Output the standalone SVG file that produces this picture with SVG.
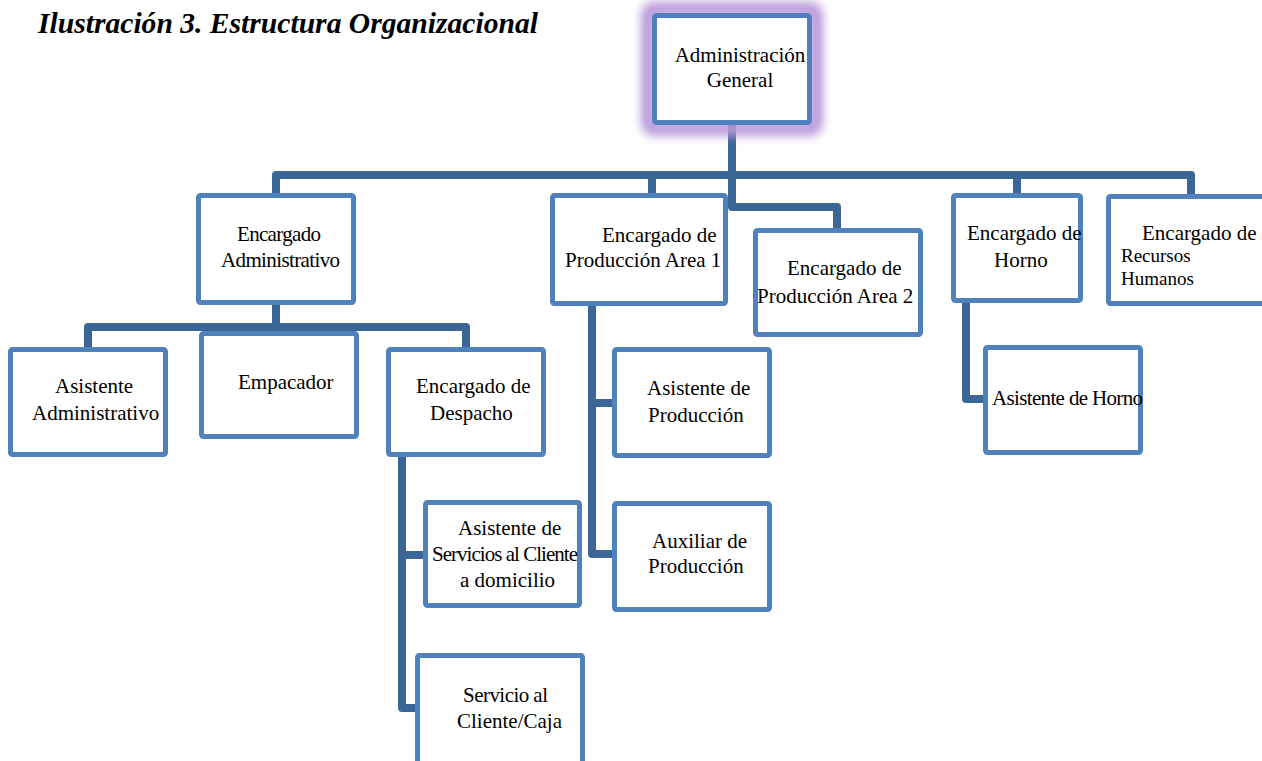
<svg xmlns="http://www.w3.org/2000/svg" width="1262" height="761" viewBox="0 0 1262 761">
<defs>
<style>
.box{fill:#fff;stroke:#4F81BD;stroke-width:5}
.t{font-family:"Liberation Serif","Times New Roman",serif;font-size:21px;fill:#000}
.c{fill:none;stroke:#3B6797;stroke-width:8;stroke-linejoin:round}
.title{font-family:"Liberation Serif","Times New Roman",serif;font-size:29.6px;font-weight:bold;font-style:italic;fill:#000}
</style>
<filter id="glow" x="-30%" y="-30%" width="160%" height="160%"><feGaussianBlur stdDeviation="5"/></filter>
</defs>
<rect width="1262" height="761" fill="#fff"/>
<text class="title" x="38" y="33">Ilustración 3. Estructura Organizacional</text>
<g id="connectors">
<path class="c" d="M732,125 V207 H837 V228"/>
<path class="c" d="M276,193 V175 H1191 V194"/>
<path class="c" d="M652,175 V193"/>
<path class="c" d="M1017,175 V193"/>
<path class="c" d="M276,305 V327"/>
<path class="c" d="M88,347 V327 H466 V347"/>
<path class="c" d="M402,457 V708 H417"/>
<path class="c" d="M402,555 H423"/>
<path class="c" d="M592,306 V554 H612"/>
<path class="c" d="M592,403 H612"/>
<path class="c" d="M966,303 V399 H983"/>
</g>
<g id="n-admin-general">
<rect x="648" y="9" width="168" height="120" rx="6" fill="none" stroke="#B99ADB" stroke-width="14" filter="url(#glow)"/>
<rect class="box" x="654.5" y="15.5" width="155" height="107" rx="2"/>
<text class="t" x="740" y="62" text-anchor="middle">Administración</text>
<text class="t" x="740" y="87" text-anchor="middle">General</text>
</g>
<g id="n-enc-admin">
<rect class="box" x="198.5" y="195.5" width="155" height="107" rx="2"/>
<text class="t" x="237" y="241" textLength="84" lengthAdjust="spacing">Encargado</text>
<text class="t" x="221" y="267" textLength="119" lengthAdjust="spacing">Administrativo</text>
</g>
<g id="n-prod1">
<rect class="box" x="552.5" y="195.5" width="173" height="108" rx="2"/>
<text class="t" x="602" y="242">Encargado de</text>
<text class="t" x="565" y="267">Producción Area 1</text>
</g>
<g id="n-prod2">
<rect class="box" x="755.5" y="230.5" width="165" height="104" rx="2"/>
<text class="t" x="787" y="275">Encargado de</text>
<text class="t" x="757" y="303">Producción Area 2</text>
</g>
<g id="n-horno">
<rect class="box" x="953.5" y="195.5" width="127" height="105" rx="2"/>
<text class="t" x="967" y="240">Encargado de</text>
<text class="t" x="994" y="267">Horno</text>
</g>
<g id="n-rrhh">
<rect class="box" x="1108.5" y="196.5" width="160" height="107" rx="2"/>
<text class="t" x="1142" y="240">Encargado de</text>
<text class="t" x="1121" y="262" style="font-size:19px">Recursos</text>
<text class="t" x="1121" y="285" style="font-size:19px">Humanos</text>
</g>
<g id="n-asis-admin">
<rect class="box" x="10.5" y="349.5" width="155" height="105" rx="2"/>
<text class="t" x="55" y="393">Asistente</text>
<text class="t" x="32" y="420">Administrativo</text>
</g>
<g id="n-empacador">
<rect class="box" x="201.5" y="333.5" width="155" height="103" rx="2"/>
<text class="t" x="238" y="389">Empacador</text>
</g>
<g id="n-despacho">
<rect class="box" x="388.5" y="349.5" width="155" height="105" rx="2"/>
<text class="t" x="416" y="393">Encargado de</text>
<text class="t" x="430" y="420">Despacho</text>
</g>
<g id="n-asis-serv">
<rect class="box" x="425.5" y="502.5" width="154" height="103" rx="2"/>
<text class="t" x="458" y="535">Asistente de</text>
<text class="t" x="432" y="561" textLength="146" lengthAdjust="spacing">Servicios al Cliente</text>
<text class="t" x="460" y="587">a domicilio</text>
</g>
<g id="n-serv-caja">
<rect class="box" x="417.5" y="655.5" width="165" height="115" rx="2"/>
<text class="t" x="463" y="702" textLength="85" lengthAdjust="spacing">Servicio al</text>
<text class="t" x="457" y="728">Cliente/Caja</text>
</g>
<g id="n-asis-prod">
<rect class="box" x="614.5" y="349.5" width="155" height="106" rx="2"/>
<text class="t" x="647" y="395">Asistente de</text>
<text class="t" x="648" y="422">Producción</text>
</g>
<g id="n-aux-prod">
<rect class="box" x="614.5" y="503.5" width="155" height="106" rx="2"/>
<text class="t" x="652" y="548">Auxiliar de</text>
<text class="t" x="648" y="573">Producción</text>
</g>
<g id="n-asis-horno">
<rect class="box" x="985.5" y="347.5" width="155" height="105" rx="2"/>
<text class="t" x="992" y="405" textLength="151" lengthAdjust="spacing">Asistente de Horno</text>
</g>
</svg>
